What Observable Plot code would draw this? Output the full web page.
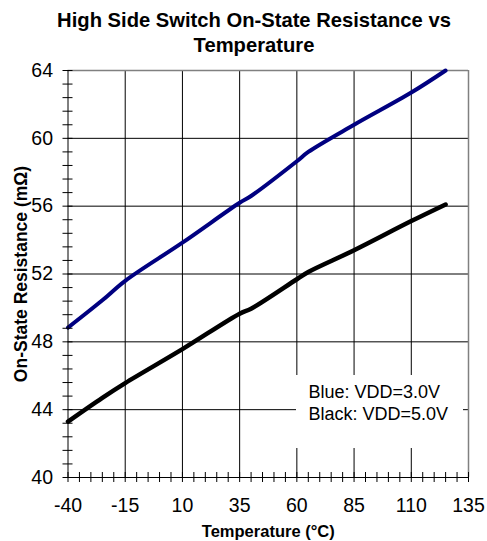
<!DOCTYPE html>
<html><head><meta charset="utf-8">
<script src="https://cdn.jsdelivr.net/npm/d3@7"></script>
<script src="https://cdn.jsdelivr.net/npm/@observablehq/plot@0.6"></script>
<style>
body{margin:0;background:#fff;font-family:"Liberation Sans",Arial,sans-serif;}
#title{height:55px;width:487px;box-sizing:border-box;padding-top:7.5px;padding-left:21px;font-weight:bold;font-size:20.2px;line-height:25px;text-align:center;color:#000}
#chart{height:486px}
</style></head><body>
<div id="title">High Side Switch On-State Resistance vs<br>Temperature</div>
<div id="chart"></div>
<script>
// ---- data ----
const tempBlue = [-40, -25, -15, 10, 35, 40, 60, 65, 85, 110, 125];
const resBlue  = [48.84, 50.45, 51.6, 53.85, 56.2, 56.6, 58.65, 59.2, 60.8, 62.7, 64.0];
const tempBlack = [-40, -25, -15, 10, 35, 40, 60, 65, 85, 110, 125];
const resBlack  = [43.3, 44.7, 45.57, 47.57, 49.66, 49.95, 51.69, 52.12, 53.4, 55.12, 56.1];
const xTicks = [-40, -15, 10, 35, 60, 85, 110, 135];
const yTicks = [40, 44, 48, 52, 56, 60, 64];
const legendLabels = ["Blue: VDD=3.0V", "Black: VDD=5.0V"];
const xTitle = "Temperature (°C)";
const yTitle = "On-State Resistance (mΩ)";

const blue = tempBlue.map((t, i) => ({t, r: resBlue[i]}));
const black = tempBlack.map((t, i) => ({t, r: resBlack[i]}));
const xMinor = d3.range(xTicks[0], xTicks[xTicks.length-1] + 0.001, 5);
const yMinor = d3.range(0, 31).map(i => Math.round((yTicks[0] + i * 0.8) * 100) / 100);
const x0 = xTicks[0], x1 = xTicks[xTicks.length-1], y0 = yTicks[0], y1 = yTicks[yTicks.length-1];

const chart = Plot.plot({
  width: 487, height: 486,
  marginLeft: 67.5, marginRight: 19, marginTop: 15, marginBottom: 64,
  style: {fontFamily: '"Liberation Sans", Arial, sans-serif', color: "#000", background: "#fff", overflow: "visible"},
  x: {domain: [x0, x1]},
  y: {domain: [y0, y1]},
  marks: [
    Plot.ruleX(xTicks.slice(1, -1), {stroke: "#000", strokeWidth: 1}),
    Plot.ruleY(yTicks.slice(1, -1), {stroke: "#000", strokeWidth: 1}),
    Plot.ruleX([x1], {stroke: "#808080", strokeWidth: 1.5}),
    Plot.ruleY([y1], {stroke: "#808080", strokeWidth: 1.5}),
    // legend box (white, no border)
    Plot.frame({fill: "#fff", stroke: "#fff", strokeWidth: 1, insetLeft: 228.5, insetRight: 6, insetTop: 305, insetBottom: 30}),
    Plot.text([legendLabels.join("\n")], {frameAnchor: "bottom-right", textAnchor: "start", lineAnchor: "top", lineHeight: 1.205, dx: -160, dy: -94.8, fontSize: 18, fill: "#000"}),
    Plot.line(blue, {x: "t", y: "r", stroke: "#000080", strokeWidth: 4, curve: "catmull-rom", strokeLinecap: "round"}),
    Plot.line(black, {x: "t", y: "r", stroke: "#000", strokeWidth: 4.5, curve: "catmull-rom", strokeLinecap: "round"}),
    Plot.ruleX([x0], {stroke: "#000", strokeWidth: 1}),
    Plot.ruleY([y0], {stroke: "#000", strokeWidth: 1}),
    Plot.ruleX(xMinor, {y1: () => y0, y2: () => y0, insetTop: 5, insetBottom: 5, stroke: "#000", strokeWidth: 1}),
    Plot.ruleY(yMinor, {x1: () => x0, x2: () => x0, insetLeft: 5, insetRight: 5, stroke: "#000", strokeWidth: 1}),
    Plot.axisX({ticks: xTicks, tickSize: 0, tickPadding: 21, fontSize: 19.5, label: null, tickFormat: d => String(d)}),
    Plot.axisY({ticks: yTicks, tickSize: 0, tickPadding: 15, fontSize: 19.5, label: null, tickFormat: d => String(d)}),
    Plot.text([xTitle], {frameAnchor: "bottom", text: d => d, textAnchor: "middle", lineAnchor: "top", dy: 48, fontSize: 16.5, fontWeight: "bold", fill: "#000"}),
    Plot.text([yTitle], {frameAnchor: "left", text: d => d, textAnchor: "middle", rotate: -90, dx: -46.5, fontSize: 17.5, fontWeight: "bold", fill: "#000"})
  ]
});
document.getElementById("chart").appendChild(chart);
</script>
</body></html>
